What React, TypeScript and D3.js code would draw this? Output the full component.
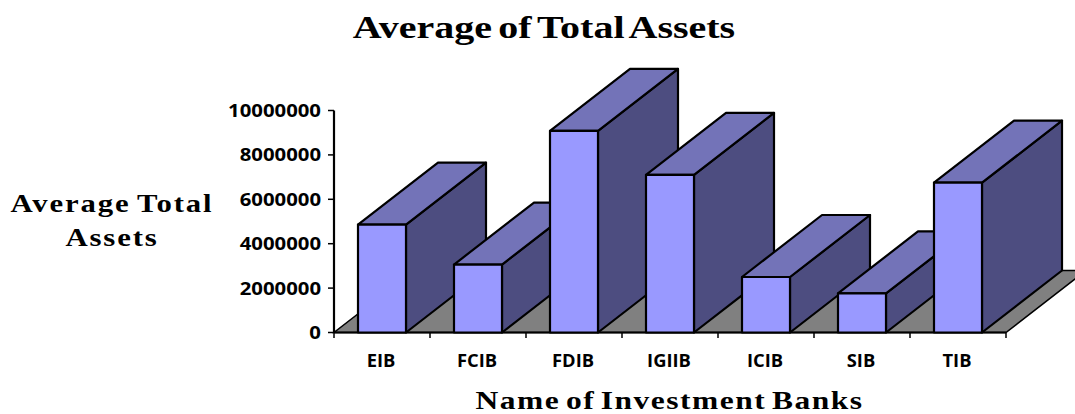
import React from "react";
import * as d3 from "d3";

const categories = ["EIB", "FCIB", "FDIB", "IGIIB", "ICIB", "SIB", "TIB"];
const values = [4860000, 3060000, 9080000, 7100000, 2500000, 1760000, 6750000];
const yTicks = [0, 2000000, 4000000, 6000000, 8000000, 10000000];

const W = 1075, H = 414;
const x = d3.scaleBand<string>().domain(categories).range([334, 1006]).paddingInner(0).paddingOuter(0);
const y = d3.scaleLinear().domain([0, 10000000]).range([332.5, 110.5]);
const dx = 80, dy = -62;
const barW = x.bandwidth() / 2;
const line = d3.line();
const sans = "'Open Sans', 'Noto Sans', sans-serif";
const serif = "'Liberation Serif', serif";

function Label({ x, y, sx, anchor = "middle", family, size, spacing = 0, wordSpacing = 0, children }: any) {
  return (
    <text
      transform={`translate(${x},${y}) scale(${sx},1)`}
      textAnchor={anchor}
      fontFamily={family}
      fontWeight={700}
      fontSize={size}
      letterSpacing={spacing}
      wordSpacing={wordSpacing}
      fill="#000"
    >
      {children}
    </text>
  );
}

export default function App() {
  const y0 = y(0);
  const floor = line([[334, y0], [1006, y0], [1006 + dx, y0 + dy], [334 + dx, y0 + dy]]) + "Z";
  const stroke = { stroke: "#000", strokeWidth: 2.2, strokeLinejoin: "round" as const };
  return (
    <svg width={W} height={H} style={{ position: "absolute", left: 0, top: 0, background: "#fff" }}>
      <path d={floor} fill="#808080" stroke="#000" strokeWidth={1.5} />
      <line x1={334} x2={1006} y1={y0} y2={y0} stroke="#000" strokeWidth={2.2} />
      {categories.map((c, i) => {
        const l = x(c)! + barW / 2, r = l + barW, t = y(values[i]);
        return (
          <g key={c}>
            <path d={line([[r, y0], [r + dx, y0 + dy], [r + dx, t + dy], [r, t]])! + "Z"} fill="#4d4d80" {...stroke} />
            <path d={line([[l, t], [r, t], [r + dx, t + dy], [l + dx, t + dy]])! + "Z"} fill="#7373b8" {...stroke} />
            <rect x={l} y={t} width={barW} height={y0 - t} fill="#9999ff" {...stroke} />
          </g>
        );
      })}
      <line x1={334} x2={334} y1={y(10000000)} y2={y0} stroke="#000" strokeWidth={2.2} />
      {yTicks.map((t) => (
        <g key={t}>
          <line x1={328} x2={334} y1={y(t)} y2={y(t)} stroke="#000" strokeWidth={1.5} />
          <Label x={321} y={y(t) + 6.5} sx={1.13} anchor="end" family={sans} size={18}>{t}</Label>
        </g>
      ))}
      {d3.range(8).map((i) => (
        <line key={i} x1={334 + i * x.step()} x2={334 + i * x.step()} y1={y0} y2={y0 + 5.5} stroke="#000" strokeWidth={1.5} />
      ))}
      {categories.map((c) => (
        <Label key={c} x={x(c)! + barW - 1} y={367} sx={1.08} family={sans} size={17}>{c}</Label>
      ))}
      <Label x={544} y={38} sx={1.25} family={serif} size={32} wordSpacing={-3}>Average of Total Assets</Label>
      <Label x={112} y={212} sx={1.23} family={serif} size={25} spacing={1.5} wordSpacing={-2}>Average Total</Label>
      <Label x={112} y={246} sx={1.23} family={serif} size={25} spacing={1.5}>Assets</Label>
      <Label x={669.5} y={408.7} sx={1.26} family={serif} size={25} spacing={1.2} wordSpacing={-3}>Name of Investment Banks</Label>
    </svg>
  );
}
